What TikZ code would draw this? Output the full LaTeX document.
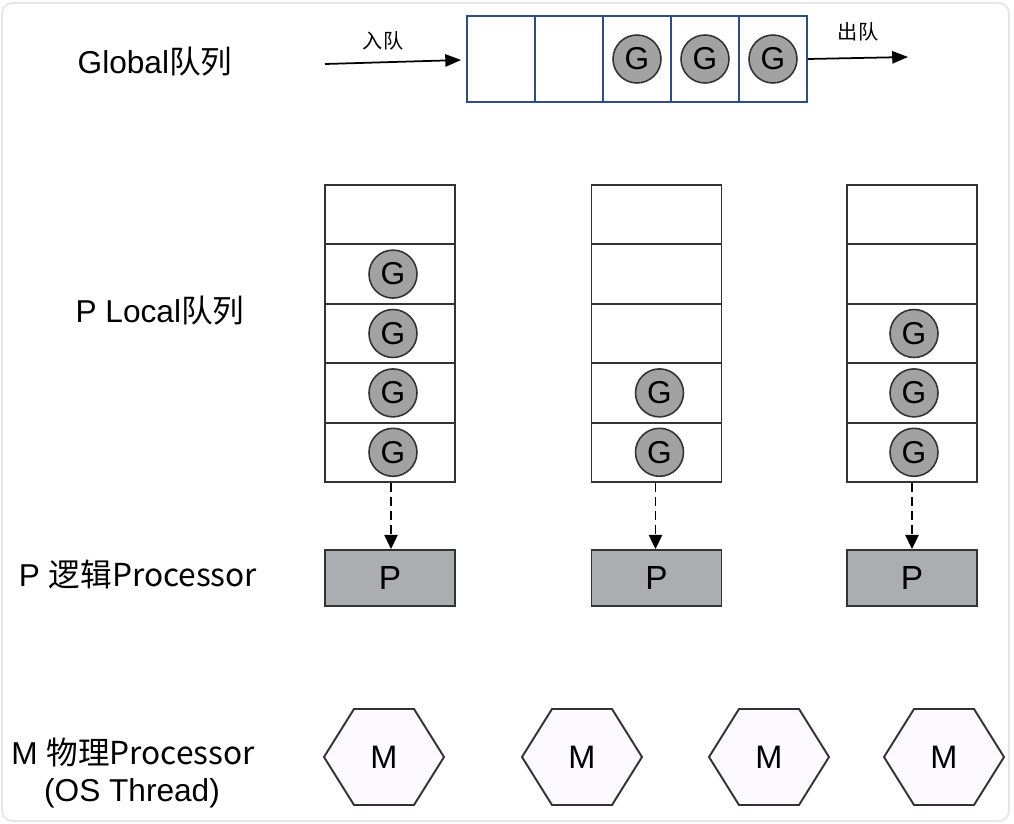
\documentclass[tikz,border=0pt]{standalone}
\usepackage{fontspec}
\setmainfont{Liberation Sans}
\newfontfamily\cjk{Noto Sans CJK SC}
\usetikzlibrary{arrows.meta}
\definecolor{qblue}{HTML}{2E4C8A}
\definecolor{dk}{HTML}{333333}
\definecolor{gfill}{HTML}{A2A2A2}
\definecolor{pfill}{HTML}{ABADB0}
\definecolor{mfill}{HTML}{FCFAFF}
\definecolor{frame}{HTML}{E6E6E6}
\begin{document}
\begin{tikzpicture}[x=0.02cm,y=-0.02cm,
  gcell/.style={draw=qblue,line width=1pt,minimum width=1.36cm,minimum height=1.72cm,inner sep=0pt},
  lcell/.style={draw=dk,line width=1.1pt,minimum width=2.6cm,minimum height=1.188cm,inner sep=0pt},
  gtok/.style={circle,draw=dk,line width=0.9pt,fill=gfill,minimum size=0.96cm,inner sep=0pt,font=\fontsize{18}{20}\selectfont},
  pbox/.style={draw=dk,line width=1.1pt,fill=pfill,minimum width=2.6cm,minimum height=1.12cm,inner sep=0pt,font=\fontsize{19}{21}\selectfont},
  hexa/.style={draw=dk,line width=1.1pt,fill=mfill},
  mlab/.style={inner sep=0pt,font=\fontsize{18.5}{20}\selectfont},
  rowlab/.style={inner sep=0pt,font=\fontsize{18}{21.5}\selectfont,align=center},
  small/.style={inner sep=0pt,font=\fontsize{11.5}{13}\selectfont},
  arr/.style={-{Triangle[length=9pt,width=7pt]},line width=1pt,draw=black},
  darr/.style={-{Triangle[length=8pt,width=7.5pt]},line width=1pt,draw=black,dash pattern=on 5pt off 3pt}
]
\useasboundingbox (0,0) rectangle (1014,824);
\draw[frame,line width=1pt,rounded corners=6pt] (2,3) rectangle (1009,821);

% row labels
\node[rowlab] (lglob) at (155,62) {Global\cjk{队列}};
\node[rowlab] (lloc) at (160,311) {P Local\cjk{队列}};
\node[rowlab] (lproc) at (138,574) {P \cjk{逻辑}Processor};
\node[rowlab] (lm) at (133,752) {M \cjk{物理}Processor};
\node[rowlab] (los) at (132,793) {(OS Thread)};

% global queue
\foreach \i/\x in {1/501,2/569,3/637,4/705,5/773}{
  \node[gcell] (q\i) at (\x,59) {};
}
\foreach \i in {3,4,5}{ \node[gtok] (qg\i) at (q\i) {G}; }
\coordinate (inS) at (325,64);
\coordinate (outE) at (908,57);
\draw[arr] (inS) -- ([xshift=-0.1cm]q1.west |- 0,60);
\draw[arr] (q5.east |- 0,59) -- (outE);
\node[small] (inl) at (383,41) {\cjk{入队}};
\node[small] (outl) at (858,32) {\cjk{出队}};

% local queues
\foreach \c/\x in {a/390,b/656.5,c/912}{
  \foreach \r/\y in {1/214.7,2/274.1,3/333.5,4/392.9,5/452.3}{
    \node[lcell] (\c\r) at (\x,\y) {};
  }
  \node[pbox] (p\c) at (\x,578) {P};
}
\foreach \r in {2,3,4,5}{ \node[gtok] (ga\r) at ([xshift=0.06cm]a\r) {G}; }
\foreach \r in {4,5}{ \node[gtok] (gb\r) at ([xshift=0.06cm]b\r) {G}; }
\foreach \r in {3,4,5}{ \node[gtok] (gc\r) at ([xshift=0.04cm]c\r) {G}; }

\draw[darr] ([xshift=0.02cm]a5.south) -- ([xshift=0.02cm]pa.north);
\draw[darr] ([xshift=-0.02cm]b5.south) -- ([xshift=-0.02cm]pb.north);
\draw[darr] (c5.south) -- (pc.north);

% M hexagons
\foreach \n/\x in {1/384,2/582,3/769,4/944}{
  \draw[hexa] (\x-60,757) -- (\x-30,709) -- (\x+30,709) -- (\x+60,757) -- (\x+30,805) -- (\x-30,805) -- cycle;
  \node[mlab] (m\n) at (\x,757) {M};
}
\end{tikzpicture}
\end{document}
